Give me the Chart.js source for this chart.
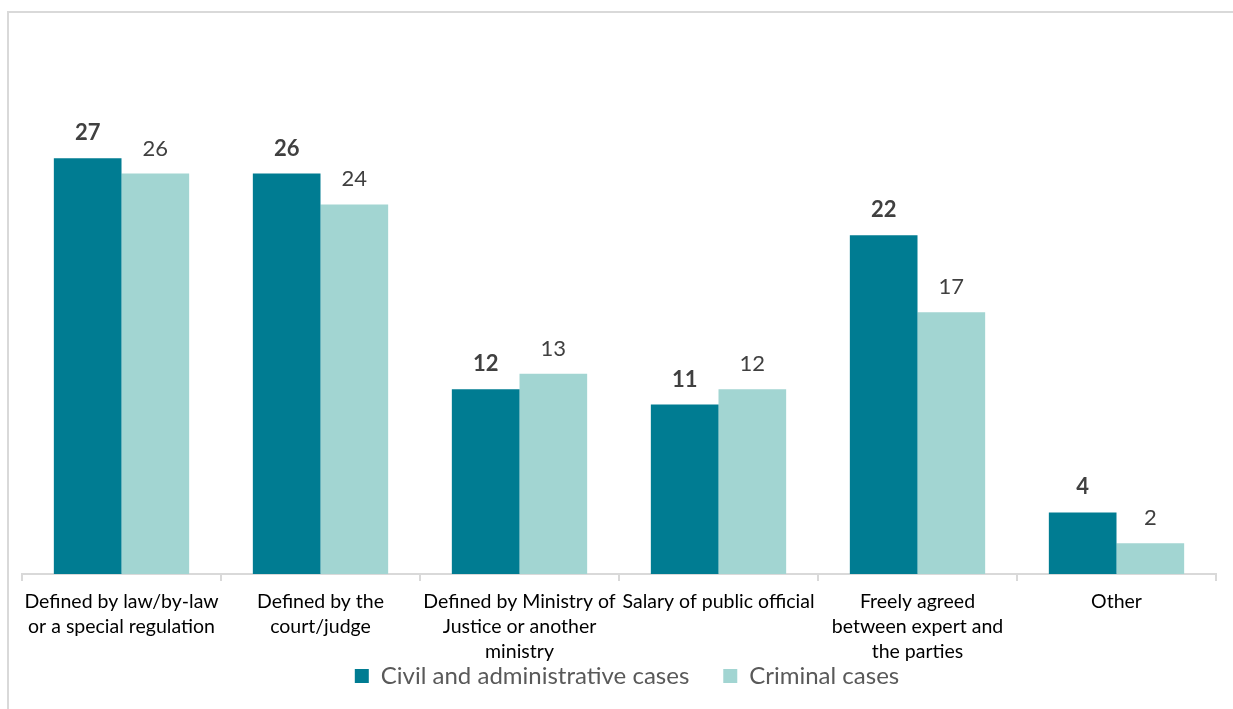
<!DOCTYPE html>
<html>
<head>
<meta charset="utf-8">
<script src="https://cdn.jsdelivr.net/npm/chart.js@4/dist/chart.umd.min.js"></script>
<style>
  html, body { margin: 0; padding: 0; background: #fff; }
  #wrap { position: relative; width: 1233px; height: 709px; overflow: hidden; }
  #frame { position: absolute; left: 7px; top: 11px; right: -4px; bottom: -4px;
           border-top: 2px solid #d9d9d9; border-left: 2px solid #d9d9d9; }
  canvas { position: absolute; left: 0; top: 0; }
</style>
</head>
<body>
<div id="wrap">
  <div id="frame"></div>
  <canvas id="chart" width="1233" height="709"></canvas>
</div>
<script>
// Fee basis for court experts, by type of case
const categories = [
  ["Defined by law/by-law", "or a special regulation"],
  ["Defined by the", "court/judge"],
  ["Defined by Ministry of", "Justice or another", "ministry"],
  ["Salary of public official"],
  ["Freely agreed", "between expert and", "the parties"],
  ["Other"]
];
const civilValues = [27, 26, 12, 11, 22, 4];
const criminalValues = [26, 24, 13, 12, 17, 2];
const seriesNames = ["Civil and administrative cases", "Criminal cases"];
const seriesColors = ["#007c92", "#a2d5d2"];

const FONT = "Lato, 'Open Sans', sans-serif";

// Writes each bar's value just above it (bold for the first series)
const valueLabels = {
  id: "valueLabels",
  afterDatasetsDraw(chart) {
    const ctx = chart.ctx;
    ctx.save();
    ctx.textAlign = "center";
    ctx.textBaseline = "alphabetic";
    ctx.fillStyle = "#404040";
    chart.data.datasets.forEach((ds, i) => {
      const meta = chart.getDatasetMeta(i);
      ctx.font = (i === 0 ? "bold " : "") + "22px " + FONT;
      meta.data.forEach((el, j) => {
        ctx.fillText(String(ds.data[j]), el.x, el.y - 18);
      });
    });
    ctx.restore();
  }
};

// Pulls the legend up so it sits snugly under the wrapped category names
const legendNudge = {
  id: "legendNudge",
  afterLayout(chart) {
    const lg = chart.legend;
    if (!lg) return;
    lg.top -= 42; lg.bottom -= 42;
    lg.left += 8; lg.right += 8;
  }
};

new Chart(document.getElementById("chart"), {
  type: "bar",
  data: {
    labels: categories,
    datasets: [
      { label: seriesNames[0], data: civilValues, backgroundColor: seriesColors[0] },
      { label: seriesNames[1], data: criminalValues, backgroundColor: seriesColors[1] }
    ]
  },
  options: {
    responsive: false,
    animation: false,
    devicePixelRatio: 1,
    layout: { padding: { left: 22, right: 17, top: 112, bottom: -31 } },
    datasets: { bar: { categoryPercentage: 0.68, barPercentage: 1.0 } },
    scales: {
      x: {
        grid: { offset: true, drawOnChartArea: false, drawTicks: true, tickLength: 7, color: "#d9d9d9", lineWidth: 2 },
        border: { display: true, color: "#d9d9d9", width: 2 },
        ticks: {
          autoSkip: false, maxRotation: 0, minRotation: 0, padding: 8,
          color: "#000000",
          font: { family: FONT, size: 19.5, lineHeight: 25 / 19.5 }
        }
      },
      y: { display: false, min: 0, max: 30 }
    },
    plugins: {
      tooltip: { enabled: false },
      legend: {
        position: "bottom",
        labels: {
          boxWidth: 14, boxHeight: 14, padding: 34,
          color: "#595959",
          font: { family: FONT, size: 24 }
        }
      }
    }
  },
  plugins: [valueLabels, legendNudge]
});
</script>
</body>
</html>
